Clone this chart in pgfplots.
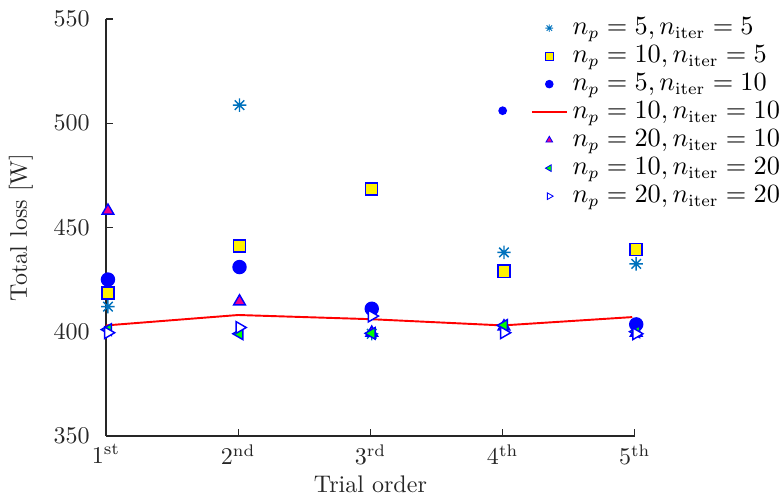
\documentclass[border=0pt]{standalone}
\usepackage{pgfplots}
\pgfplotsset{compat=1.18}
\definecolor{mblue}{RGB}{0,114,189}
\definecolor{axgray}{RGB}{38,38,38}
\pgfdeclareplotmark{mstar}{%
 \pgfpathmoveto{\pgfpoint{-\pgfplotmarksize}{0pt}}\pgfpathlineto{\pgfpoint{\pgfplotmarksize}{0pt}}%
 \pgfpathmoveto{\pgfpoint{0pt}{-\pgfplotmarksize}}\pgfpathlineto{\pgfpoint{0pt}{\pgfplotmarksize}}%
 \pgfpathmoveto{\pgfpoint{-0.7071\pgfplotmarksize}{-0.7071\pgfplotmarksize}}\pgfpathlineto{\pgfpoint{0.7071\pgfplotmarksize}{0.7071\pgfplotmarksize}}%
 \pgfpathmoveto{\pgfpoint{-0.7071\pgfplotmarksize}{0.7071\pgfplotmarksize}}\pgfpathlineto{\pgfpoint{0.7071\pgfplotmarksize}{-0.7071\pgfplotmarksize}}%
 \pgfusepathqstroke}
\begin{document}
\begin{tikzpicture}
\path[use as bounding box] (-44.1pt,-25pt) rectangle (280.9pt,181.4pt);
\begin{axis}[
  at={(0,0)}, anchor=south west,
  scale only axis, width=220.1pt, height=173.5pt,
  xmin=1, xmax=5, ymin=350, ymax=550,
  xtick={1,2,3,4,5},
  xticklabels={$1^{\mathrm{st}}$,$2^{\mathrm{nd}}$,$3^{\mathrm{rd}}$,$4^{\mathrm{th}}$,$5^{\mathrm{th}}$},
  ytick={350,400,450,500,550},
  axis x line*=bottom, axis y line*=left,
  axis line style={axgray, line width=0.6pt},
  tick style={axgray, line width=0.5pt},
  tick align=inside, major tick length=3pt,
  ticklabel style={text=axgray},
  yticklabel style={xshift=-3.3pt},
  xlabel={Trial order}, ylabel={Total loss [W]},
  label style={text=axgray},
  xlabel style={at={(axis description cs:0.5,-0.115)}, anchor=center},
  ylabel style={at={(axis description cs:-0.161,0.5)}, anchor=center},
  clip=false,
  legend style={draw=none, fill=none, at={(axis description cs:1.298,1.027)}, anchor=north east,
    cells={anchor=west}, row sep=-0.9pt, font=\fontsize{10.5}{12.5}\selectfont},
  legend image code/.code={\draw[mark repeat=2,mark phase=2] plot coordinates {(0pt,0pt) (7.3pt,0pt) (14.6pt,0pt)};},
  legend image post style={mark size=1.6pt, every mark/.append style={line width=0.35pt}},
  every axis plot/.append style={line width=0.6pt},
]
% n_p=5, n_iter=5
\addplot[only marks, mark=mstar, mark size=2.8pt, color=mblue] coordinates {
 (1.015,412) (2.01,508.7) (3.01,399) (4.01,438) (5.01,432.5)};
\addlegendentry{$n_p=5, n_{\mathrm{iter}}=5$}
% n_p=10, n_iter=5
\addplot[only marks, mark=square*, mark size=2.5pt, draw=blue, fill=yellow] coordinates {
 (1.015,418.5) (2.01,441.2) (3.01,468.5) (4.01,429) (5.01,439.5)};
\addlegendentry{$n_p=10, n_{\mathrm{iter}}=5$}
% n_p=5, n_iter=10
\addplot[only marks, mark=*, mark size=2.7pt, draw=blue, fill=blue] coordinates {
 (1.015,425) (2.01,431) (3.01,411) (5.01,403.5)};
\addlegendentry{$n_p=5, n_{\mathrm{iter}}=10$}
% n_p=10, n_iter=10
\addplot[no marks, color=red, line width=0.8pt] coordinates {
 (1,403) (2,408) (3,406) (4,403) (4.98,407)};
\addlegendentry{$n_p=10, n_{\mathrm{iter}}=10$}
% n_p=20, n_iter=10
\addplot[only marks, mark=triangle*, mark size=2.8pt, draw=blue, fill=magenta] coordinates {
 (1.015,458) (2.01,414.5) (3.01,399.5) (4.01,402.5) (5.01,399.5)};
\addlegendentry{$n_p=20, n_{\mathrm{iter}}=10$}
% n_p=10, n_iter=20
\addplot[only marks, mark=triangle*, mark size=2.8pt, mark options={rotate=90}, draw=blue, fill=green] coordinates {
 (1.015,401) (2.01,399) (3.01,399.2) (4.01,403) (5.01,400)};
\addlegendentry{$n_p=10, n_{\mathrm{iter}}=20$}
% n_p=20, n_iter=20
\addplot[only marks, mark=triangle*, mark size=2.8pt, mark options={rotate=-90}, draw=blue, fill=white] coordinates {
 (1.015,399.5) (2.01,402) (3.01,407.5) (4.01,399.5) (5.01,399)};
\addlegendentry{$n_p=20, n_{\mathrm{iter}}=20$}
% small dot at 4th
\addplot[only marks, mark=*, mark size=1.5pt, draw=blue, fill=blue, forget plot] coordinates {(4.0,506)};
\end{axis}
\end{tikzpicture}
\end{document}
